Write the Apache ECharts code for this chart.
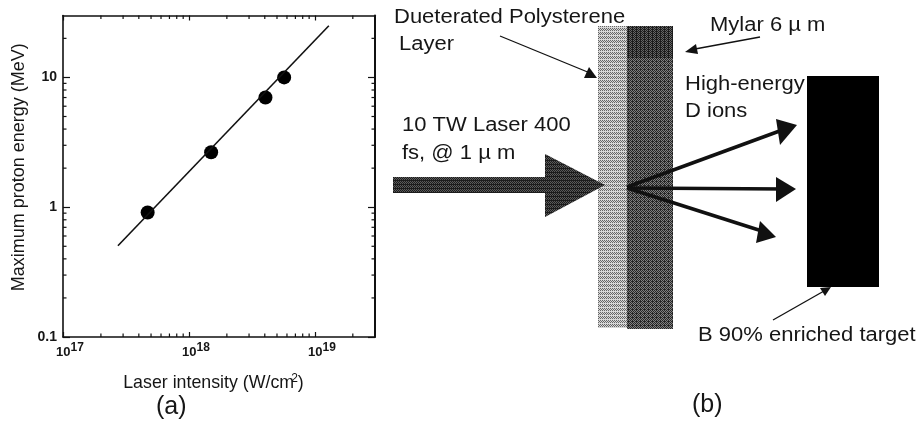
<!DOCTYPE html>
<html><head><meta charset="utf-8">
<style>html,body{margin:0;padding:0;background:#fff}#c{width:918px;height:421px;filter:blur(0.35px)}</style>
<script src="https://cdn.jsdelivr.net/npm/echarts@6/dist/echarts.min.js"></script>
</head><body><div id="c"></div>
<script>
const measuredIntensity = [4.7e17, 1.5e18, 4.05e18, 5.7e18];
const measuredEnergy = [0.91, 2.65, 7.0, 10];
const fitIntensity = [2.73e17, 1.29e19];
const fitEnergy = [0.505, 25];
const xMajorTicks = [1e17, 1e18, 1e19];
const yMajorTicks = [0.1, 1, 10];
const xMinorTicks = [2e17,3e17,4e17,5e17,6e17,7e17,8e17,9e17,2e18,3e18,4e18,5e18,6e18,7e18,8e18,9e18,2e19];
const yMinorTicks = [0.2,0.3,0.4,0.5,0.6,0.7,0.8,0.9,2,3,4,5,6,7,8,9,20];
const xTitle = 'Laser intensity (W/cm';
const yTitle = 'Maximum proton energy (MeV)';

const FONT = '"Liberation Sans", Arial, sans-serif';
const INK = '#161616';

function tile(size, test, dark, light) {
  const cv = document.createElement('canvas');
  cv.width = cv.height = size;
  const g = cv.getContext('2d');
  for (let y = 0; y < size; y++) for (let x = 0; x < size; x++) {
    g.fillStyle = test(x, y) ? dark : light;
    g.fillRect(x, y, 1, 1);
  }
  return {image: cv, repeat: 'repeat'};
}
const lightFill = tile(8, (x,y) => (x+y)%2===0 && y%4!==3, '#666', '#d6d6d6');
const darkFill = tile(8, (x,y) => (x+y)%2===0 || (x%4===0 && y%4===1), '#262626', '#808080');
const darkerFill = tile(8, (x,y) => (x+y)%2===0 || x%4===0, '#1c1c1c', '#666');
const arrowFill = tile(4, (x,y) => (x+y)%2===0 || y%4===0, '#1c1c1c', '#5a5a5a');

function rect(x,y,w,h,fill){return {type:'rect',shape:{x,y,width:w,height:h},style:{fill},silent:true};}
function poly(points,fill){return {type:'polygon',shape:{points},style:{fill},silent:true};}
function seg(x1,y1,x2,y2,w){return {type:'line',shape:{x1,y1,x2,y2},style:{stroke:'#111',lineWidth:w},silent:true};}
function txt(x,y,text,size,sx){return {type:'text',x,y,scaleX:sx||1,silent:true,style:{text,fill:INK,font:size+'px '+FONT,verticalAlign:'middle'}};}

const diagram = [
  rect(598,26,29,302,lightFill),
  rect(627,26,46,303,darkFill),
  rect(627,26,46,32,darkerFill),
  rect(393,177,153,16,arrowFill),
  poly([[545,154],[605,185],[545,217]],arrowFill),
  rect(807,76,72,211,'#000'),
  seg(627,187,785,129,3.5), poly([[797,125],[776,119],[780,145]],'#111'),
  seg(627,188,785,189,3.5), poly([[796,189],[776,177],[776,202]],'#111'),
  seg(627,188,765,232,3.5), poly([[776,237],[760,221],[756,243]],'#111'),
  seg(500,36,590,73,1.3), poly([[597,78],[584,78],[589,67]],'#111'),
  seg(760,37,695,49,1.3), poly([[685,52],[696,44],[698,54]],'#111'),
  seg(773,320,824,291,1.3), poly([[831,287],[820,288],[825,296]],'#111'),
  txt(394,17,'Dueterated Polysterene',20,1.1),
  txt(399,44,'Layer',20,1.1),
  txt(710,25,'Mylar 6 µ m',20,1.1),
  txt(685,84,'High-energy',20,1.1),
  txt(685,111,'D ions',20,1.1),
  txt(402,125,'10 TW Laser 400',20,1.1),
  txt(402,153,'fs, @ 1 µ m',20,1.1),
  txt(698,335,'B 90% enriched target',20,1.1),
  txt(156,407,'(a)',25),
  txt(692,405,'(b)',25)
];

const xLabel = v => '{b|10}{s|' + Math.round(Math.log10(v)) + '}';
const yLabel = v => { const e = Math.round(Math.log10(v)); return e < 0 ? '0.1' : String(Math.pow(10, e)); };

function xAx(position, show) {
  return {type:'log',logBase:10,min:1e17,max:3e19,position,
    axisLine:{show:true,onZero:false,lineStyle:{color:'#111',width:1.6}},
    axisTick:{show:true,inside:true,length:5,customValues:xMajorTicks,lineStyle:{color:'#111',width:1.2}},
    minorTick:{show:false},splitLine:{show:false},
    axisLabel:{show,customValues:xMajorTicks,margin:3,formatter:xLabel,color:INK,hideOverlap:false,
      rich:{b:{fontFamily:FONT,fontSize:13,fontWeight:'bold',color:INK,padding:[6,0,0,14]},
            s:{fontFamily:FONT,fontSize:12,fontWeight:'bold',color:INK,padding:[0,0,4,0]}}},
    name: show ? '{t|' + xTitle + '}{u|2}{t|)}' : '',
    nameLocation:'middle',nameGap:36,
    nameTextStyle:{padding:[0,11,0,0],rich:{t:{fontFamily:FONT,fontSize:17.8,color:INK},u:{fontFamily:FONT,fontSize:12,color:INK,padding:[0,0,8,-3]}}}
  };
}
function yAx(position, show) {
  return {type:'log',logBase:10,min:0.1,max:30,position,
    axisLine:{show:true,onZero:false,lineStyle:{color:'#111',width:show?1.6:2}},
    axisTick:{show:true,inside:true,length:7,customValues:yMajorTicks,lineStyle:{color:'#111',width:1.2}},
    minorTick:{show:false},splitLine:{show:false},
    axisLabel:{show,customValues:yMajorTicks,margin:6,formatter:yLabel,color:INK,hideOverlap:false,
      fontFamily:FONT,fontSize:14,fontWeight:'bold'},
    name: show ? yTitle : '',
    nameLocation:'middle',nameGap:34.5,
    nameTextStyle:{fontFamily:FONT,fontSize:18,color:INK,padding:[0,0,0,18]}
  };
}

function minorTickItem(params, api) {
  const axis = api.value(0), v = api.value(1);
  const b = params.coordSys;
  const L = 3.5;
  const p = axis === 0 ? api.coord([v, 0.1]) : api.coord([1e17, v]);
  const mk = (x1,y1,x2,y2) => ({type:'line',shape:{x1,y1,x2,y2},style:{stroke:'#111',lineWidth:1.2}});
  if (axis === 0) return {type:'group',children:[
    mk(p[0],b.y+b.height,p[0],b.y+b.height-L), mk(p[0],b.y,p[0],b.y+L)]};
  return {type:'group',children:[
    mk(b.x,p[1],b.x+L,p[1]), mk(b.x+b.width,p[1],b.x+b.width-L,p[1])]};
}
const minorData = xMinorTicks.map(v => [0, v]).concat(yMinorTicks.map(v => [1, v]));

const chart = echarts.init(document.getElementById('c'), null, {renderer:'canvas'});
chart.setOption({
  animation:false,
  backgroundColor:'#fff',
  grid:{left:63,top:15.5,width:312,height:321.5,containLabel:false},
  xAxis:[xAx('bottom',true),xAx('top',false)],
  yAxis:[yAx('left',true),yAx('right',false)],
  series:[
    {type:'custom',coordinateSystem:'cartesian2d',renderItem:minorTickItem,data:minorData,silent:true,clip:false,
     encode:{x:1,y:1},dimensions:['axis','value']},
    {type:'line',data:fitIntensity.map((x,i)=>[x,fitEnergy[i]]),showSymbol:false,lineStyle:{color:'#111',width:1.6},silent:true},
    {type:'scatter',data:measuredIntensity.map((x,i)=>[x,measuredEnergy[i]]),symbol:'circle',symbolSize:14,itemStyle:{color:'#000',opacity:1},silent:true}
  ],
  graphic:diagram
});
</script></body></html>
